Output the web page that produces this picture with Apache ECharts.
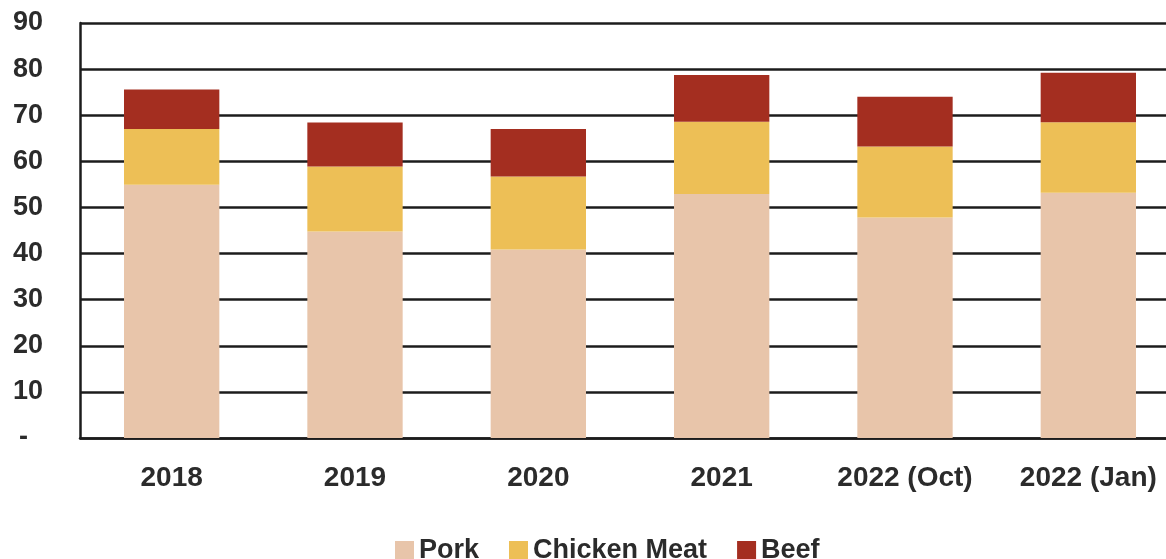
<!DOCTYPE html>
<html>
<head>
<meta charset="utf-8">
<script src="https://cdn.jsdelivr.net/npm/echarts@6/dist/echarts.min.js"></script>
<style>
  html, body { margin: 0; padding: 0; background: #fff; }
  #chart { width: 1166px; height: 559px; }
</style>
</head>
<body>
<div id="chart"></div>
<script>
// Meat consumption by type, stacked per period
const categories = ['2018', '2019', '2020', '2021', '2022 (Oct)', '2022 (Jan)'];
const pork = [54.9, 44.8, 40.9, 52.9, 47.8, 53.2];
const chickenMeat = [12.1, 14.1, 15.8, 15.7, 15.4, 15.3];
const beef = [8.6, 9.5, 10.3, 10.1, 10.8, 10.7];
const yTicks = [0, 10, 20, 30, 40, 50, 60, 70, 80, 90];

const FONT = '"Liberation Sans", Arial, sans-serif';
const TEXT = '#2b2b2b';
const LINE = '#1c1c1c';

const chart = echarts.init(document.getElementById('chart'), null, { renderer: 'canvas' });

function barSeries(name, data, color) {
  return {
    name: name,
    type: 'bar',
    stack: 'total',
    barWidth: '52%',
    data: data,
    itemStyle: { color: color },
    emphasis: { disabled: true }
  };
}

chart.setOption({
  animation: false,
  backgroundColor: '#ffffff',
  // plot area runs past the right edge of the canvas
  grid: { left: 80, width: 1100, top: 23, height: 415, outerBoundsMode: 'none', containLabel: false },
  xAxis: {
    type: 'category',
    data: categories,
    axisLine: { show: true, lineStyle: { color: LINE, width: 2.5 } },
    axisTick: { show: false },
    axisLabel: {
      margin: 26,
      color: TEXT,
      fontFamily: FONT,
      fontWeight: 'bold',
      fontSize: 28
    }
  },
  yAxis: {
    type: 'value',
    min: yTicks[0],
    max: yTicks[yTicks.length - 1],
    interval: 10,
    axisLine: { show: true, lineStyle: { color: LINE, width: 2.5 } },
    axisTick: { show: false },
    splitLine: { show: true, lineStyle: { color: LINE, width: 2.5 } },
    axisLabel: {
      margin: 37,
      color: TEXT,
      fontFamily: FONT,
      fontWeight: 'bold',
      fontSize: 27,
      formatter: function (v) { return v === 0 ? '-  ' : String(v); }
    }
  },
  legend: {
    data: ['Pork', 'Chicken Meat', 'Beef'],
    left: 390,
    top: 532,
    icon: 'rect',
    itemWidth: 19,
    itemHeight: 19,
    itemGap: 30,
    textStyle: {
      color: TEXT,
      fontFamily: FONT,
      fontWeight: 'bold',
      fontSize: 27
    }
  },
  series: [
    barSeries('Pork', pork, '#E8C5AA'),
    barSeries('Chicken Meat', chickenMeat, '#EDBF56'),
    barSeries('Beef', beef, '#A42E20')
  ]
});
</script>
</body>
</html>
